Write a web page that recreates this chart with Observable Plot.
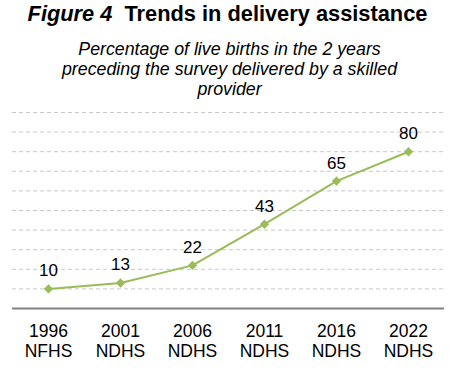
<!DOCTYPE html>
<html>
<head>
<meta charset="utf-8">
<script src="https://cdn.jsdelivr.net/npm/d3@7"></script>
<script src="https://cdn.jsdelivr.net/npm/@observablehq/plot@0.6"></script>
<style>
  html, body { margin: 0; padding: 0; background: #fff; }
  body { width: 468px; height: 374px; position: relative; overflow: hidden; font-family: "Liberation Sans", Arial, sans-serif; color: #000; }
  #title { position: absolute; left: 0; width: 455px; top: 0.5px; text-align: center; font-weight: bold; font-size: 21.8px; line-height: 26px; white-space: nowrap; }
  #subtitle { position: absolute; left: 0; width: 459px; top: 38.6px; text-align: center; font-style: italic; font-size: 17.8px; line-height: 20.3px; white-space: nowrap; }
  #chart { position: absolute; left: 0; top: 100px; }
</style>
</head>
<body>
<div id="title"><i>Figure 4</i>&nbsp; Trends in delivery assistance</div>
<div id="subtitle">Percentage of live births in the 2 years<br>preceding the survey delivered by a skilled<br>provider</div>
<div id="chart"></div>
<script>
const years = ["1996", "2001", "2006", "2011", "2016", "2022"];
const surveys = ["NFHS", "NDHS", "NDHS", "NDHS", "NDHS", "NDHS"];
const values = [10, 13, 22, 43, 65, 80];
const gridTicks = [10, 20, 30, 40, 50, 60, 70, 80, 90, 100];

const categories = years.map((y, i) => y + "\n" + surveys[i]);
const data = categories.map((c, i) => ({cat: c, value: values[i]}));
const green = "#9bbb59";

const chart = Plot.plot({
  width: 468,
  height: 274,
  marginTop: 12,
  marginBottom: 66,
  marginLeft: 12,
  marginRight: 24,
  style: {fontFamily: "Liberation Sans, Arial, sans-serif", fontSize: "17px", color: "#000", background: "#fff"},
  x: {type: "point", domain: categories, padding: 0.5},
  y: {domain: [0, 100], axis: null},
  marks: [
    Plot.ruleY(gridTicks, {stroke: "#c8c8c8", strokeWidth: 1, strokeDasharray: "4,3"}),
    Plot.ruleY([0], {stroke: "#808080", strokeWidth: 2}),
    Plot.axisX({tickSize: 0, tickPadding: 14, fontSize: 17.5, lineHeight: 1.143, fill: "#000", label: null}),
    Plot.line(data, {x: "cat", y: "value", stroke: green, strokeWidth: 2}),
    Plot.dot(data, {x: "cat", y: "value", symbol: "diamond2", r: 4, fill: green, stroke: green, strokeWidth: 0.5}),
    Plot.text(data, {x: "cat", y: "value", text: d => String(d.value), dy: -18, fontSize: 17, fill: "#000"})
  ]
});
document.getElementById("chart").appendChild(chart);
</script>
</body>
</html>
